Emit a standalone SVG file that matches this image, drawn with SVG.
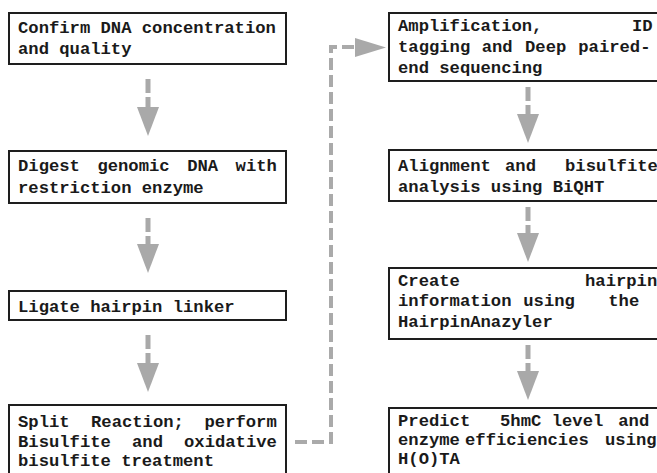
<svg xmlns="http://www.w3.org/2000/svg" width="657" height="473" viewBox="0 0 657 473">
<defs>
<style>
.box{fill:#fff;stroke:#1e1e1e;stroke-width:2}
.t{font-family:"Liberation Mono","Courier New",monospace;font-weight:bold;font-size:17.2px;fill:#1a1a1a}
.shaft{stroke:#a9a9a9;stroke-width:5;fill:none;stroke-dasharray:14 4}
.head{fill:#a9a9a9}
.elbow{stroke:#aaaaaa;stroke-width:4;fill:none;stroke-dasharray:12 5}
</style>
</defs>
<rect width="657" height="473" fill="#fff"/>
<g id="connectors">
<line class="shaft" x1="148" y1="79" x2="148" y2="109"/>
<polygon class="head" points="137,107 159,107 148,136"/>
<line class="shaft" x1="148" y1="218" x2="148" y2="246"/>
<polygon class="head" points="137,244 159,244 148,273"/>
<line class="shaft" x1="148" y1="335" x2="148" y2="365"/>
<polygon class="head" points="137,363 159,363 148,392"/>
<line class="shaft" x1="528" y1="87" x2="528" y2="116"/>
<polygon class="head" points="517,114 539,114 528,143"/>
<line class="shaft" x1="528" y1="207" x2="528" y2="235"/>
<polygon class="head" points="517,233 539,233 528,262"/>
<line class="shaft" x1="528" y1="345" x2="528" y2="373"/>
<polygon class="head" points="517,371 539,371 528,400"/>
<path class="elbow" d="M295,442 H331 V47 H357"/>
<polygon class="head" points="355,38 355,57 386,47.5"/>
</g>
<g id="n1">
<rect class="box" x="9" y="13" width="277" height="51"/>
<text class="t" x="18" y="32.5">Confirm DNA concentration</text>
<text class="t" x="18" y="53.5">and quality</text>
</g>
<g id="n2">
<rect class="box" x="9" y="151" width="277" height="52"/>
<text class="t" y="171"><tspan x="18">Digest</tspan><tspan x="97.4">genomic</tspan><tspan x="187.2">DNA</tspan><tspan x="235.6">with</tspan></text>
<text class="t" x="18" y="192.5">restriction enzyme</text>
</g>
<g id="n3">
<rect class="box" x="9" y="291" width="277" height="29"/>
<text class="t" x="18" y="311.5">Ligate hairpin linker</text>
</g>
<g id="n4">
<rect class="box" x="9" y="405" width="277" height="80"/>
<text class="t" y="427"><tspan x="18">Split</tspan><tspan x="91">Reaction;</tspan><tspan x="204.5">perform</tspan></text>
<text class="t" y="446.5"><tspan x="18">Bisulfite</tspan><tspan x="132">and</tspan><tspan x="184">oxidative</tspan></text>
<text class="t" x="18" y="466">bisulfite treatment</text>
</g>
<g id="n5">
<rect class="box" x="389" y="13" width="290" height="68"/>
<text class="t" y="31"><tspan x="398">Amplification,</tspan><tspan x="632">ID</tspan></text>
<text class="t" y="52"><tspan x="398">tagging</tspan><tspan x="481.7">and</tspan><tspan x="525">Deep</tspan><tspan x="578.3">paired-</tspan></text>
<text class="t" x="398" y="73">end sequencing</text>
</g>
<g id="n6">
<rect class="box" x="389" y="150" width="290" height="51"/>
<text class="t" y="170.5"><tspan x="398">Alignment</tspan><tspan x="505">and</tspan><tspan x="565">bisulfite</tspan></text>
<text class="t" x="398" y="191.7">analysis using BiQHT</text>
</g>
<g id="n7">
<rect class="box" x="389" y="268" width="290" height="71"/>
<text class="t" y="285.5"><tspan x="398">Create</tspan><tspan x="585">hairpin</tspan></text>
<text class="t" y="306"><tspan x="398">information</tspan><tspan x="523.3">using</tspan><tspan x="608.3">the</tspan></text>
<text class="t" x="398" y="327">HairpinAnazyler</text>
</g>
<g id="n8">
<rect class="box" x="389" y="408" width="290" height="80"/>
<text class="t" y="425.5"><tspan x="398">Predict</tspan><tspan x="500">5hmC</tspan><tspan x="551.7">level</tspan><tspan x="618.3">and</tspan></text>
<text class="t" y="445"><tspan x="398">enzyme</tspan><tspan x="465">efficiencies</tspan><tspan x="605">using</tspan></text>
<text class="t" x="398" y="463.5">H(O)TA</text>
</g>
</svg>
